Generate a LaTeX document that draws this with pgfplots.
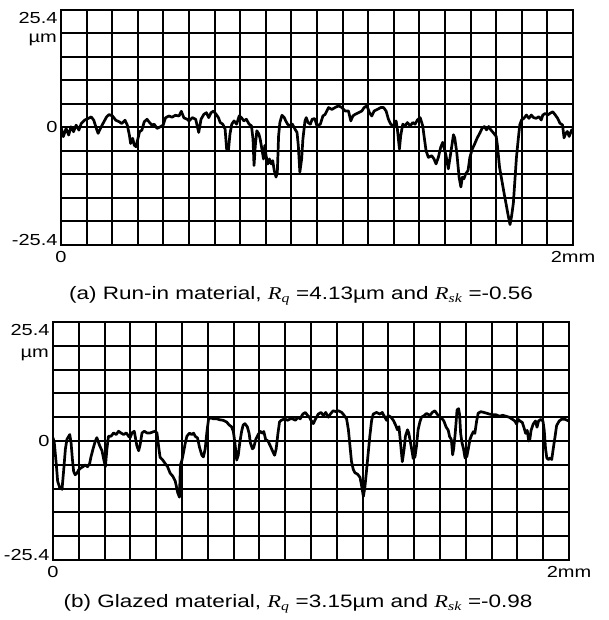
\documentclass[border=0pt]{standalone}
\usepackage{fontspec}
\setmainfont{Liberation Sans}[FakeStretch=1.25]
\newfontfamily\tms{Liberation Serif}[FakeStretch=1.25]
\usepackage{pgfplots}
\usepackage{pgfplotstable}
\pgfplotsset{compat=1.18}

% g = position in 0.1 mm grid units, h = height in 5.08 um grid units
\pgfplotstableread{
g h
0.00 0.03
0.09 -0.39
0.20 -0.04
0.30 -0.32
0.39 0.03
0.49 -0.18
0.59 0.10
0.70 -0.11
0.79 0.17
0.92 0.31
1.05 0.38
1.18 0.45
1.28 0.31
1.38 -0.04
1.45 -0.25
1.54 -0.04
1.64 0.17
1.78 0.45
1.88 0.55
2.01 0.49
2.14 0.31
2.28 0.24
2.37 0.17
2.50 0.31
2.59 0.10
2.67 -0.32
2.72 -0.68
2.80 -0.46
2.86 -0.75
2.93 -0.82
2.99 -0.54
3.07 -0.18
3.16 -0.11
3.25 0.24
3.36 0.35
3.46 0.21
3.55 0.10
3.64 0.14
3.75 -0.04
3.88 0.03
3.99 0.10
4.08 0.41
4.21 0.49
4.34 0.44
4.47 0.52
4.61 0.49
4.70 0.69
4.80 0.41
4.93 0.35
5.00 0.28
5.13 0.42
5.26 0.35
5.38 -0.21
5.47 0.35
5.58 0.56
5.68 0.63
5.77 0.42
5.86 0.63
5.96 0.70
6.06 0.56
6.15 0.42
6.22 0.21
6.32 0.14
6.41 -0.07
6.47 -0.92
6.54 -0.99
6.60 -0.28
6.67 0.14
6.76 0.28
6.86 0.14
6.96 0.49
7.05 0.42
7.14 0.28
7.24 0.35
7.35 0.14
7.44 0.07
7.50 -0.49
7.54 -1.62
7.59 -0.77
7.65 -0.14
7.73 -0.28
7.78 -0.49
7.86 -0.99
7.91 -1.34
7.96 -0.77
8.01 -1.20
8.08 -1.55
8.14 -1.34
8.21 -1.55
8.27 -1.41
8.33 -1.83
8.40 -2.11
8.45 -1.90
8.50 -0.35
8.55 0.21
8.63 0.52
8.72 0.42
8.78 0.28
8.85 0.14
8.94 0.07
9.04 0.14
9.14 -0.07
9.22 -0.21
9.27 -0.77
9.33 -1.90
9.40 -1.34
9.45 -0.49
9.53 0.28
9.58 0.42
9.65 0.21
9.74 0.14
9.81 0.35
9.91 0.38
10.00 0.07
10.13 0.14
10.23 0.49
10.32 0.56
10.45 0.85
10.58 0.77
10.71 0.85
10.84 0.92
10.97 0.85
11.10 0.70
11.23 0.70
11.32 0.28
11.40 0.49
11.49 0.56
11.62 0.63
11.75 0.70
11.84 0.85
11.95 0.92
12.05 0.63
12.14 0.49
12.23 0.70
12.36 0.77
12.49 0.85
12.60 0.85
12.70 0.70
12.79 0.35
12.88 0.14
12.99 0.07
13.09 0.28
13.14 -0.07
13.22 -0.92
13.27 -0.35
13.35 0.14
13.44 0.07
13.53 0.21
13.64 0.07
13.74 0.21
13.83 0.14
13.92 0.32
14.03 0.42
14.13 0.07
14.18 -0.35
14.26 -0.99
14.35 -1.27
14.48 -1.20
14.57 -1.34
14.65 -1.55
14.74 -1.27
14.83 -0.85
14.91 -0.63
14.96 -0.85
15.04 -1.20
15.13 -1.76
15.25 -0.90
15.33 -0.31
15.38 -0.44
15.46 -1.07
15.55 -2.11
15.62 -2.53
15.68 -2.11
15.74 -2.18
15.81 -1.97
15.90 -1.83
15.97 -1.28
16.06 -0.93
16.15 -0.72
16.26 -0.44
16.36 -0.24
16.45 -0.03
16.54 0.04
16.62 -0.10
16.71 0.04
16.79 -0.10
16.90 -0.24
17.00 -0.38
17.05 -0.79
17.13 -1.69
17.22 -2.25
17.31 -2.81
17.38 -3.22
17.45 -3.64
17.54 -4.13
17.60 -3.78
17.67 -3.22
17.73 -2.25
17.79 -1.28
17.86 -0.51
17.92 0.11
17.99 0.32
18.08 0.39
18.18 0.53
18.28 0.39
18.37 0.53
18.46 0.42
18.56 0.39
18.67 0.46
18.76 0.32
18.82 0.53
18.92 0.60
19.01 0.53
19.10 0.60
19.21 0.67
19.31 0.53
19.40 0.39
19.49 0.18
19.59 0.11
19.65 -0.44
19.72 -0.24
19.78 -0.17
19.85 -0.38
19.95 -0.10
20.00 -0.14
}\profA

\pgfplotstableread{
g h
0.00 0.14
0.05 -0.07
0.13 -1.01
0.18 -1.69
0.26 -1.96
0.35 -2.03
0.41 -1.28
0.48 -0.34
0.54 0.07
0.61 0.20
0.65 0.27
0.70 -0.07
0.75 -0.74
0.80 -1.28
0.86 -1.42
0.93 -1.35
0.99 -1.22
1.06 -1.15
1.16 -1.08
1.25 -1.01
1.34 -1.08
1.42 -0.95
1.47 -0.68
1.55 -0.34
1.64 0.00
1.70 0.14
1.81 -0.20
1.90 -0.41
1.96 -0.74
2.03 -1.08
2.09 -0.34
2.15 0.20
2.25 0.20
2.35 0.34
2.45 0.27
2.54 0.41
2.63 0.34
2.74 0.27
2.84 0.34
2.93 0.20
2.99 0.14
3.06 0.34
3.15 0.41
3.25 -0.20
3.32 -0.41
3.38 -0.14
3.45 0.34
3.54 0.41
3.64 0.34
3.77 0.34
3.87 0.38
3.96 0.41
4.03 0.34
4.09 -0.20
4.15 -0.68
4.26 -0.81
4.35 -0.95
4.44 -1.08
4.54 -1.35
4.65 -1.49
4.74 -1.69
4.83 -2.16
4.90 -2.36
4.94 -1.00
5.00 -0.80
5.06 -0.47
5.13 -0.07
5.19 0.20
5.29 0.33
5.38 0.27
5.45 0.33
5.51 0.20
5.60 0.13
5.68 -0.27
5.77 -0.60
5.83 -0.67
5.90 -0.33
5.96 0.33
6.03 0.93
6.12 0.97
6.22 0.93
6.35 0.93
6.47 0.89
6.60 0.87
6.73 0.80
6.83 0.67
6.92 0.60
6.99 0.40
7.05 -0.07
7.12 -0.80
7.18 -0.60
7.24 -0.07
7.31 0.40
7.37 0.67
7.44 0.73
7.53 0.60
7.60 0.33
7.65 -0.07
7.73 -0.33
7.78 -0.27
7.86 0.07
7.95 0.27
8.04 0.40
8.12 0.33
8.17 0.40
8.24 0.07
8.33 0.00
8.42 -0.20
8.53 -0.47
8.59 -0.60
8.65 -0.33
8.72 0.33
8.78 0.80
8.85 0.87
8.97 0.93
9.10 0.87
9.19 0.93
9.29 0.93
9.40 0.87
9.49 1.00
9.58 0.93
9.68 1.13
9.78 1.20
9.87 1.07
9.94 1.00
10.00 0.87
10.09 0.73
10.18 0.93
10.28 1.13
10.39 1.20
10.48 1.07
10.57 1.20
10.67 1.00
10.77 1.16
10.86 1.27
10.95 1.24
11.06 1.27
11.19 1.20
11.29 1.07
11.38 0.93
11.45 0.47
11.51 -0.20
11.57 -0.87
11.64 -1.20
11.70 -1.33
11.81 -1.40
11.90 -1.53
11.96 -1.87
12.03 -2.33
12.09 -1.93
12.15 -1.27
12.22 -0.47
12.28 0.20
12.35 0.87
12.41 1.13
12.54 1.20
12.67 1.13
12.76 1.20
12.86 1.00
12.93 0.87
12.99 1.07
13.10 1.00
13.19 0.87
13.28 0.67
13.35 0.47
13.41 0.60
13.48 -0.20
13.54 -0.87
13.61 -0.33
13.66 0.20
13.74 0.47
13.79 0.33
13.90 -0.33
13.96 -0.73
14.03 -0.67
14.09 -0.20
14.15 0.47
14.22 0.80
14.28 1.00
14.39 1.07
14.48 1.16
14.61 1.07
14.70 1.20
14.80 1.27
14.93 1.07
15.06 0.97
15.15 0.84
15.24 0.58
15.32 0.45
15.37 0.19
15.44 0.06
15.49 -0.58
15.53 -0.32
15.59 0.32
15.66 1.30
15.72 1.36
15.76 1.10
15.80 0.32
15.85 -0.06
15.91 -0.32
15.97 -0.71
16.04 -0.65
16.10 -0.32
16.16 0.06
16.23 0.26
16.29 0.39
16.35 0.32
16.42 0.84
16.48 1.17
16.58 1.23
16.67 1.21
16.80 1.17
16.92 1.13
17.05 1.10
17.18 1.10
17.30 1.04
17.43 1.08
17.56 1.04
17.68 1.00
17.81 0.91
17.90 0.84
17.97 0.71
18.03 0.91
18.10 0.84
18.19 0.78
18.25 0.58
18.32 0.32
18.38 0.45
18.44 0.00
18.48 0.06
18.53 0.45
18.61 0.71
18.70 0.84
18.76 0.58
18.82 0.84
18.91 0.91
18.99 0.84
19.04 0.45
19.09 -0.32
19.14 -0.71
19.20 -0.78
19.27 -0.71
19.33 -0.78
19.39 -0.32
19.46 0.19
19.52 0.65
19.62 0.84
19.71 0.91
19.84 0.91
20.00 0.84
}\profB

\pgfplotsset{profile/.style={
  scale only axis,
  anchor=south west,
  xmin=0, xmax=2, ymin=-25.4, ymax=25.4,
  xtick={0,2}, xticklabels={0,2mm},
  ytick={-25.4,0,25.4},
  yticklabels={\raisebox{5pt}[\height][\depth]{-25.4},0,\raisebox{-8pt}[\height][\depth]{25.4}},
  minor xtick={0.1,0.2,0.3,0.4,0.5,0.6,0.7,0.8,0.9,1.0,1.1,1.2,1.3,1.4,1.5,1.6,1.7,1.8,1.9},
  minor ytick={-20.32,-15.24,-10.16,-5.08,0,5.08,10.16,15.24,20.32},
  xminorgrids=true, yminorgrids=true,
  minor grid style={black, line width=2pt},
  axis line style={line width=2.2pt},
  major tick length=0pt, minor tick length=0pt,
  ticklabel style={font=\fontsize{16}{19}\selectfont},
  xticklabel style={yshift=-3pt},
  clip=true,
}}

\begin{document}
\begin{tikzpicture}[x=1pt,y=1pt]
\path[use as bounding box] (0,0) rectangle (608,620);

\begin{axis}[profile, at={(61pt,375pt)}, width=512pt, height=235pt]
\addplot[black, line width=2.7pt, line join=round] table[x expr=\thisrow{g}/10, y expr=\thisrow{h}*5.08] {\profA};
\end{axis}
\node[anchor=east, font=\fontsize{16}{19}\selectfont, inner sep=0pt] at (57,580) {µm};
\node[font=\fontsize{18}{21}\selectfont] at (301,324) {(a) Run-in material, {\tms\itshape R\textsubscript{q}} =4.13µm and {\tms\itshape R\textsubscript{sk}} =-0.56};

\begin{axis}[profile, at={(53pt,60pt)}, width=516pt, height=238pt]
\addplot[black, line width=2.7pt, line join=round] table[x expr=\thisrow{g}/10, y expr=\thisrow{h}*5.08] {\profB};
\end{axis}
\node[anchor=east, font=\fontsize{16}{19}\selectfont, inner sep=0pt] at (49,265) {µm};
\node[font=\fontsize{18}{21}\selectfont] at (298,16) {(b) Glazed material, {\tms\itshape R\textsubscript{q}} =3.15µm and {\tms\itshape R\textsubscript{sk}} =-0.98};
\end{tikzpicture}
\end{document}
